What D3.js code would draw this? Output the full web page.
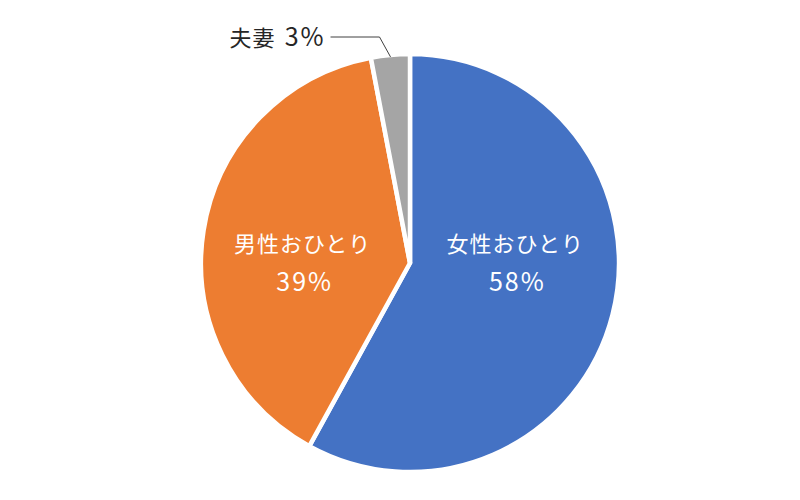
<!DOCTYPE html>
<html>
<head>
    <meta charset="utf-8">
    <title>世帯構成</title>
    <script src="https://cdn.jsdelivr.net/npm/d3@7"></script>
    <style>
        body { margin: 0; background: #fff; }
        svg text { font-family: "Noto Sans CJK JP", "Noto Sans", sans-serif; }
    </style>
</head>
<body>
    <div id="chart"></div>

    <script>
        // データ
        const categories = ["女性おひとり", "男性おひとり", "夫妻"];
        const values = [58, 39, 3];
        const colors = ["#4472C4", "#ED7D31", "#A5A5A5"];

        const width = 800, height = 500;
        const cx = 410, cy = 263, radius = 209;

        const svg = d3.select("#chart").append("svg")
            .attr("width", width)
            .attr("height", height);

        const g = svg.append("g").attr("transform", `translate(${cx},${cy})`);

        const pie = d3.pie().sort(null).value(d => d.value);
        const arcs = pie(categories.map((c, i) => ({ name: c, value: values[i], color: colors[i] })));

        const arc = d3.arc().innerRadius(0).outerRadius(radius);
        const labelArc = d3.arc().innerRadius(0).outerRadius(radius * 1.04);

        // 扇形
        g.selectAll("path.slice")
            .data(arcs)
            .enter().append("path")
            .attr("class", "slice")
            .attr("d", arc)
            .attr("fill", d => d.data.color)
            .attr("stroke", "#fff")
            .attr("stroke-width", 4.5)
            .attr("stroke-linejoin", "miter");

        // 内側ラベル（大きい2つ）
        const inner = arcs.filter(d => d.data.value >= 10);
        const innerLabel = g.selectAll("text.inner")
            .data(inner)
            .enter().append("text")
            .attr("class", "inner")
            .attr("text-anchor", "middle")
            .attr("fill", "#fff")
            .attr("font-size", 22)
            .attr("letter-spacing", 1)
            .attr("transform", d => `translate(${labelArc.centroid(d)[0]},0)`);
        innerLabel.append("tspan")
            .attr("x", 0).attr("y", -11)
            .text(d => d.data.name);
        innerLabel.append("tspan")
            .attr("x", 2).attr("y", 28)
            .attr("font-size", 25)
            .attr("letter-spacing", 2)
            .text(d => d.data.value + "%");

        // 外側ラベル（夫妻）と引き出し線
        const outer = arcs.filter(d => d.data.value < 10);
        outer.forEach(d => {
            const mid = (d.startAngle + d.endAngle) / 2;
            const px = Math.sin(mid) * (radius - 2), py = -Math.cos(mid) * (radius - 2);
            const ex = px - 11, ey = -226;
            g.append("polyline")
                .attr("points", `${ex - 49},${ey} ${ex},${ey} ${px},${py}`)
                .attr("fill", "none")
                .attr("stroke", "#404040")
                .attr("stroke-width", 1);
            const t = g.append("text")
                .attr("x", ex - 54)
                .attr("y", ey + 9)
                .attr("text-anchor", "end")
                .attr("fill", "#262626")
                .attr("font-size", 22)
                .attr("letter-spacing", 1);
            t.append("tspan").text(d.data.name);
            t.append("tspan").attr("dx", 9).attr("font-size", 25).attr("letter-spacing", 2)
                .text(d.data.value + "%");
        });
    </script>
</body>
</html>
